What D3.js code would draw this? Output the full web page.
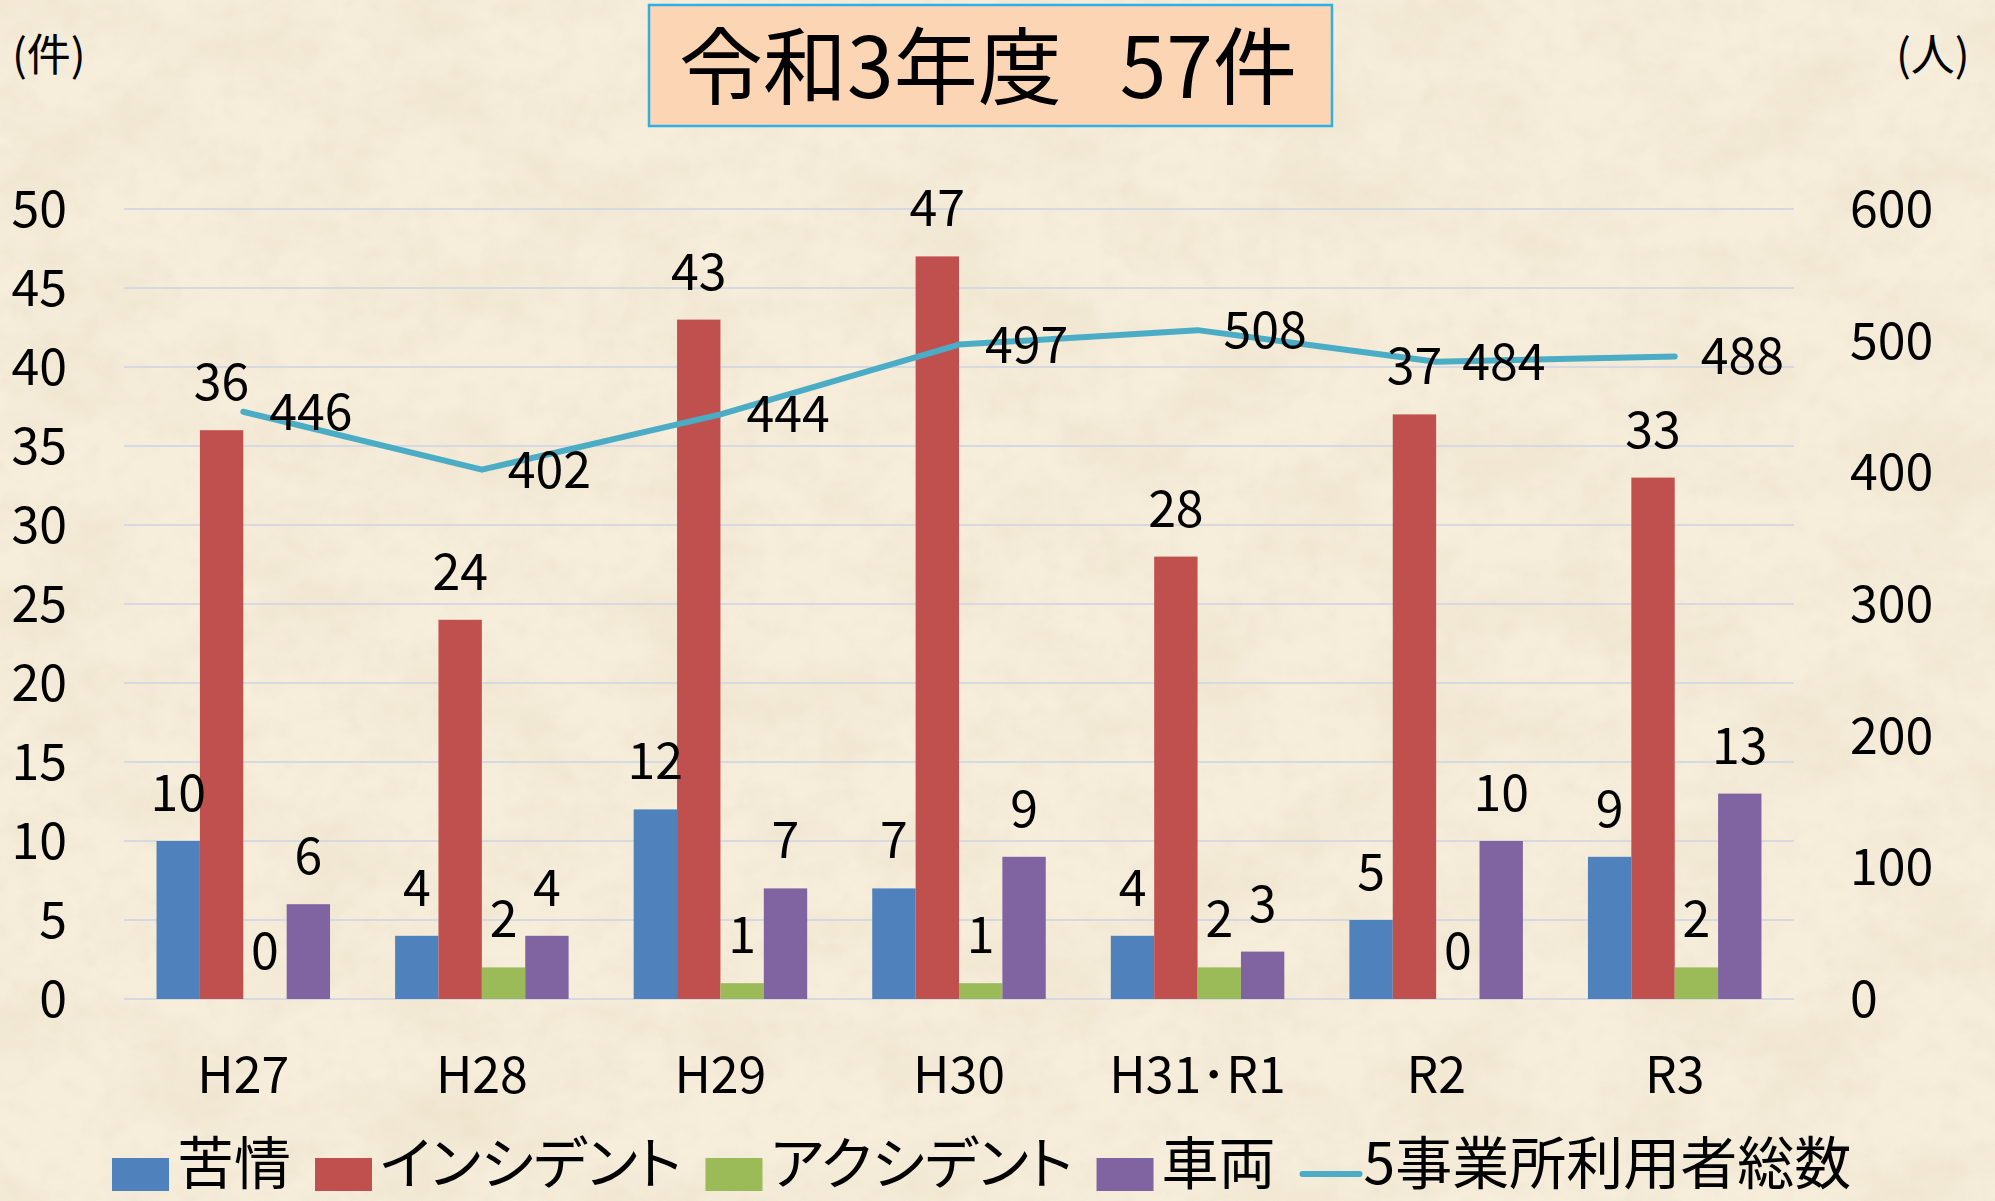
<!DOCTYPE html>
<html><head><meta charset="utf-8">
<script src="https://cdn.jsdelivr.net/npm/d3@7"></script>
<style>
html,body{margin:0;padding:0;background:#F4EAD6;}
svg{display:block;}
text{font-family:"Noto Sans CJK JP","Noto Sans",sans-serif;fill:#000;}
</style></head>
<body>
<svg id="chart" width="1995" height="1201"></svg>
<script>
const categories = ["H27","H28","H29","H30","H31･R1","R2","R3"];
const seriesNames = ["苦情","インシデント","アクシデント","車両"];
const kujo      = [10, 4, 12, 7, 4, 5, 9];
const incident  = [36, 24, 43, 47, 28, 37, 33];
const accident  = [0, 2, 1, 1, 2, 0, 2];
const sharyo    = [6, 4, 7, 9, 3, 10, 13];
const lineName  = "5事業所利用者総数";
const users     = [446, 402, 444, 497, 508, 484, 488];
const leftTicks  = [0,5,10,15,20,25,30,35,40,45,50];
const rightTicks = [0,100,200,300,400,500,600];
const titleParts = ["令和3年度","　","57件"];
const colors = ["#4F81BD","#C0504D","#9BBB59","#8064A2"];
const lineColor = "#4BACC6";

const seriesValues = [kujo, incident, accident, sharyo];
const svg = d3.select("#chart");
const W = 1995, H = 1201;

// background paper texture
const defs = svg.append("defs");
const f = defs.append("filter").attr("id","paper").attr("x",0).attr("y",0).attr("width","100%").attr("height","100%");
f.append("feTurbulence").attr("type","fractalNoise").attr("baseFrequency","0.008 0.012").attr("numOctaves",5).attr("seed",7);
f.append("feColorMatrix").attr("type","matrix")
 .attr("values","0 0 0 0 0.78  0 0 0 0 0.70  0 0 0 0 0.52  1.3 0 0 0 -0.52");
const f2 = defs.append("filter").attr("id","grain").attr("x",0).attr("y",0).attr("width","100%").attr("height","100%");
f2.append("feTurbulence").attr("type","fractalNoise").attr("baseFrequency","0.05").attr("numOctaves",3).attr("seed",11);
f2.append("feColorMatrix").attr("type","matrix")
 .attr("values","0 0 0 0 0.80  0 0 0 0 0.72  0 0 0 0 0.55  1.4 0 0 0 -0.6");
svg.append("rect").attr("width",W).attr("height",H).attr("fill","#F6EDDB");
svg.append("rect").attr("width",W).attr("height",H).attr("filter","url(#paper)").attr("opacity",0.55);
svg.append("rect").attr("width",W).attr("height",H).attr("filter","url(#grain)").attr("opacity",0.35);

const plot = {left:124, right:1794, top:209, bottom:999};
const x0 = d3.scaleBand().domain(categories).range([plot.left, plot.right]).paddingInner(0).paddingOuter(0);
const bw = x0.bandwidth()/5.5;
const x1 = d3.scaleBand().domain(seriesNames).range([0.75*bw, x0.bandwidth()-0.75*bw]).padding(0);
const yL = d3.scaleLinear().domain([0,50]).range([plot.bottom, plot.top]);
const yR = d3.scaleLinear().domain([0,600]).range([plot.bottom, plot.top]);

// gridlines
svg.append("g").selectAll("line").data(leftTicks).join("line")
  .attr("x1",plot.left).attr("x2",plot.right)
  .attr("y1",d=>yL(d)).attr("y2",d=>yL(d))
  .attr("stroke","#D6D9E2").attr("stroke-width",2.2);

// left axis labels
svg.append("g").selectAll("text").data(leftTicks).join("text")
  .attr("x",67).attr("y",d=>yL(d)+18).attr("text-anchor","end")
  .attr("font-size",50).text(d=>d);
// right axis labels
svg.append("g").selectAll("text").data(rightTicks).join("text")
  .attr("x",1850).attr("y",d=>yR(d)+18).attr("text-anchor","start")
  .attr("font-size",50).text(d=>d);
// axis unit titles
svg.append("text").attr("x",12).attr("y",71).attr("font-size",44).text("(件)");
svg.append("text").attr("x",1896).attr("y",71).attr("font-size",44).text("(人)");

// category labels
svg.append("g").selectAll("text").data(categories).join("text")
  .attr("x",d=>x0(d)+x0.bandwidth()/2).attr("y",1093).attr("text-anchor","middle")
  .attr("font-size",50).text(d=>d);

// bars
const barData = [];
categories.forEach((c,i)=>{
  seriesNames.forEach((s,j)=>{ barData.push({c, s, j, v: seriesValues[j][i]}); });
});
svg.append("g").selectAll("rect").data(barData).join("rect")
  .attr("x",d=>x0(d.c)+x1(d.s)).attr("width",x1.bandwidth())
  .attr("y",d=>yL(d.v)).attr("height",d=>yL(0)-yL(d.v))
  .attr("fill",d=>colors[d.j]);

// line
const pts = categories.map((c,i)=>({c, v: users[i]}));
svg.append("path").datum(pts)
  .attr("d", d3.line().x(d=>x0(d.c)+x0.bandwidth()/2).y(d=>yR(d.v)))
  .attr("fill","none").attr("stroke",lineColor).attr("stroke-width",6)
  .attr("stroke-linejoin","round").attr("stroke-linecap","round");

// bar labels
svg.append("g").selectAll("text").data(barData).join("text")
  .attr("x",d=>x0(d.c)+x1(d.s)+x1.bandwidth()/2).attr("y",d=>yL(d.v)-30)
  .attr("text-anchor","middle").attr("font-size",50).text(d=>d.v);

// line labels
svg.append("g").selectAll("text").data(pts).join("text")
  .attr("x",d=>x0(d.c)+x0.bandwidth()/2+26).attr("y",d=>yR(d.v)+18)
  .attr("text-anchor","start").attr("font-size",50).text(d=>d.v);

// title box
svg.append("rect").attr("x",649).attr("y",5).attr("width",683).attr("height",121)
  .attr("fill","#FCD5B5").attr("stroke","#2FAFE3").attr("stroke-width",2.5);
const tt = svg.append("text").attr("x",988).attr("y",98).attr("text-anchor","middle")
  .attr("font-size",84);
tt.append("tspan").text(titleParts[0]);
tt.append("tspan").attr("font-size",58).text(titleParts[1]);
tt.append("tspan").text(titleParts[2]);

// legend
const lg = svg.append("g").style("font-feature-settings","'palt'");
let lx = 112;
const ly = 1174;
const legendItems = seriesNames.map((s,j)=>({name:s, color:colors[j], type:"rect"}))
  .concat([{name:lineName, color:lineColor, type:"line"}]);
legendItems.forEach(it=>{
  if(it.type==="rect"){
    lg.append("rect").attr("x",lx).attr("y",ly-16).attr("width",57).attr("height",33).attr("fill",it.color);
    lx += 57 + 8;
  } else {
    lg.append("line").attr("x1",lx+3).attr("x2",lx+60).attr("y1",ly).attr("y2",ly)
      .attr("stroke",it.color).attr("stroke-width",6).attr("stroke-linecap","round");
    lx += 64;
  }
  const t = lg.append("text").attr("x",lx).attr("y",1184).attr("font-size",57).text(it.name);
  lx += t.node().getComputedTextLength() + 24;
});
</script>
</body></html>
